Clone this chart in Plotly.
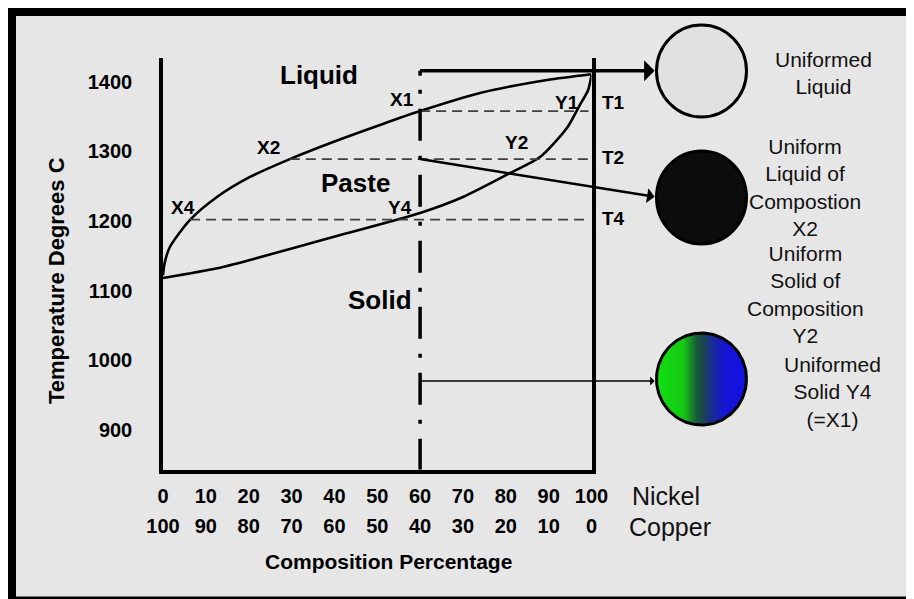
import numpy as np
import plotly.graph_objects as go

FONT = "Liberation Sans, Arial, Helvetica, sans-serif"
OFF = 8                      # page body margin of the rendered html
W, H = 914 - OFF, 599 - OFF  # figure size so the page fills the 914x599 window

# ---------------- data ----------------
liquidus_comp = [0, 0.4, 1.6, 6.3, 12.6, 20.3, 29.6, 39.7, 51.3, 60, 74, 89.6, 100]
liquidus_temp = [1122, 1140, 1162.6, 1201.5, 1234.5, 1263.3, 1289, 1313.6, 1339.5, 1358, 1384, 1402.7, 1411]
solidus_comp = [0, 12.6, 20.3, 39.7, 60, 70, 81, 88, 94.3, 97.3, 99.2, 100]
solidus_temp = [1118, 1132, 1144, 1177, 1211.5, 1234.5, 1269, 1292, 1334, 1367, 1388, 1410]

tie_names = ["T1", "T2", "T4"]
tie_temp = [1358, 1289, 1202]
tie_start = [60, 29.6, 6.3]
tie_end = 99.3
tie_label_shift = [9, 2, 1]

alloy_comp = 60
alloy_top = 1416
alloy_bottom = 842.5
solid_arrow_temp = 970

nickel_ticks = [0, 10, 20, 30, 40, 50, 60, 70, 80, 90, 100]
copper_ticks = [100 - v for v in nickel_ticks]
temp_ticks = [900, 1000, 1100, 1200, 1300, 1400]

point_labels = [("X1", 55.8, 1375), ("X2", 24.7, 1305), ("X4", 4.7, 1220),
                ("Y1", 94.3, 1371), ("Y2", 82.4, 1313), ("Y4", 55.3, 1220)]
region_labels = [("Liquid", 36.4, 1410), ("Paste", 45.0, 1255), ("Solid", 50.6, 1086)]


def PX(x):
    return (x - OFF) / W


def PY(y):
    return 1 - (y - OFF) / H


fig = go.Figure()

# phase curves
for cx, cy in [(liquidus_comp, liquidus_temp), (solidus_comp, solidus_temp)]:
    fig.add_trace(go.Scatter(x=cx, y=cy, mode="lines",
                             line=dict(color="black", width=2.6, shape="spline", smoothing=0.7),
                             hoverinfo="skip"))

# tie lines
for t, s in zip(tie_temp, tie_start):
    fig.add_trace(go.Scatter(x=[s, tie_end], y=[t, t], mode="lines",
                             line=dict(color="#404040", width=1.8, dash="10px,6px"),
                             hoverinfo="skip"))

# alloy composition line (dash-dot)
period = "32px,15px,4px,15px"
dash = "5px,14px,4px,15px," + ",".join([period] * 7)
fig.add_trace(go.Scatter(x=[alloy_comp, alloy_comp], y=[alloy_top, alloy_bottom], mode="lines",
                         line=dict(color="black", width=3.5, dash=dash), hoverinfo="skip"))

# invisible trace for second (copper) axis
fig.add_trace(go.Scatter(x=[0, 100], y=[900, 900], xaxis="x2", yaxis="y", mode="markers",
                         marker=dict(opacity=0), hoverinfo="skip"))

# gradient circle (solid)
theta = np.linspace(0, 2 * np.pi, 145)
fig.add_trace(go.Scatter(x=np.cos(theta), y=np.sin(theta), xaxis="x3", yaxis="y3",
                         mode="lines", fill="toself",
                         line=dict(color="black", width=3),
                         fillgradient=dict(type="horizontal",
                                           colorscale=[[0, "#12e012"], [0.3, "#14c814"],
                                                       [0.44, "#1a5e3a"], [0.52, "#1c4450"],
                                                       [0.6, "#1a2f8a"], [0.75, "#1515d2"],
                                                       [1, "#1212e6"]]),
                         hoverinfo="skip"))

shapes = [
    # frame
    dict(type="rect", xref="paper", yref="paper", x0=PX(11.5), x1=PX(935), y0=PY(601), y1=PY(11.5),
         line=dict(color="black", width=9), fillcolor="#e6e6e6", layer="below"),
    # liquid circle
    dict(type="circle", xref="paper", yref="paper", x0=PX(656.5), x1=PX(746.5), y0=PY(117), y1=PY(25),
         line=dict(color="black", width=3), fillcolor="#e1e1e1"),
    # paste circle
    dict(type="circle", xref="paper", yref="paper", x0=PX(656.5), x1=PX(746.5), y0=PY(244), y1=PY(151),
         line=dict(color="black", width=3), fillcolor="#0c0c0c"),
]

annotations = []

# arrows from the alloy line to the circles
for temp, ay, w, size in [(alloy_top, 0, 3.5, 0.9), (tie_temp[1], 38, 2.5, 1.2), (solid_arrow_temp, 0, 1.5, 2.0)]:
    annotations.append(dict(x=alloy_comp, y=temp, xref="x", yref="y", ax=236, ay=ay,
                            axref="pixel", ayref="pixel", text="", showarrow=True,
                            arrowside="start", arrowhead=2, arrowwidth=w, arrowsize=size,
                            arrowcolor="black"))


def label(**kw):
    kw.setdefault("showarrow", False)
    kw.setdefault("xanchor", "center")
    kw.setdefault("yanchor", "middle")
    annotations.append(kw)


for txt, c, t in point_labels:
    label(x=c, y=t, xref="x", yref="y", text=txt,
          font=dict(family=FONT, size=19, color="black", weight="bold"))
for txt, c, t in region_labels:
    label(x=c, y=t, xref="x", yref="y", text=txt,
          font=dict(family=FONT, size=26, color="black", weight="bold"))
for name, t, sh in zip(tie_names, tie_temp, tie_label_shift):
    label(x=PX(613), y=t, xref="paper", yref="y", yshift=sh, text=name,
          font=dict(family=FONT, size=19, color="black", weight="bold"))

# right-hand descriptions
desc = [("Uniformed<br>Liquid", 823, 73),
        ("Uniform<br>Liquid of<br>Compostion<br>X2", 805, 187),
        ("Uniform<br>Solid of<br>Composition<br>Y2", 805, 294),
        ("Uniformed<br>Solid Y4<br>(=X1)", 832, 392)]
for txt, x, y in desc:
    label(x=PX(x), y=PY(y), xref="paper", yref="paper", text=txt, align="center",
          font=dict(family=FONT, size=21, color="#111111"))

label(x=PX(666), y=PY(496), xref="paper", yref="paper", text="Nickel",
      font=dict(family=FONT, size=25, color="#111111"))
label(x=PX(670), y=PY(527), xref="paper", yref="paper", text="Copper",
      font=dict(family=FONT, size=25, color="#111111"))
label(x=PX(388), y=PY(561), xref="paper", yref="paper", text="Composition Percentage",
      font=dict(family=FONT, size=21, color="black", weight="bold"))
label(x=PX(57), y=PY(281), xref="paper", yref="paper", text="Temperature Degrees C",
      textangle=-90, font=dict(family=FONT, size=22, color="black", weight="bold"))

tickfont = dict(family=FONT, size=20, color="black", weight="bold")

fig.update_layout(
    width=W, height=H, autosize=False,
    margin=dict(l=0, r=0, t=0, b=0, pad=0, autoexpand=False),
    paper_bgcolor="white",
    plot_bgcolor="rgba(0,0,0,0)",
    showlegend=False,
    shapes=shapes,
    annotations=annotations,
    xaxis=dict(domain=[PX(163), PX(591.5)], range=[0, 100], anchor="y", automargin=False,
               tickvals=nickel_ticks, ticktext=[str(v) for v in nickel_ticks],
               showline=True, linecolor="black", linewidth=4, showgrid=False, zeroline=False,
               ticks="", tickfont=tickfont, ticklabelstandoff=5, fixedrange=True),
    xaxis2=dict(overlaying="x", range=[0, 100], anchor="y", side="bottom", automargin=False,
                tickvals=nickel_ticks, ticktext=[str(v) for v in copper_ticks],
                showline=False, showgrid=False, zeroline=False, ticks="",
                tickfont=tickfont, ticklabelstandoff=42, fixedrange=True),
    yaxis=dict(domain=[PY(469.7), PY(58)], range=[842.5, 1434.3], anchor="x", automargin=False,
               tickvals=temp_ticks, ticktext=[str(v) for v in temp_ticks],
               showline=True, mirror=True, linecolor="black", linewidth=3.5,
               showgrid=False, zeroline=False, ticks="", tickfont=tickfont,
               ticklabelstandoff=23, fixedrange=True),
    xaxis3=dict(domain=[PX(652), PX(751)], range=[-1.1, 1.1], visible=False, anchor="y3",
                automargin=False, fixedrange=True),
    yaxis3=dict(domain=[PY(429.6), PY(328.4)], range=[-1.1, 1.1], visible=False, anchor="x3",
                automargin=False, fixedrange=True),
)

fig.write_html("out.html", config={"displayModeBar": False})
